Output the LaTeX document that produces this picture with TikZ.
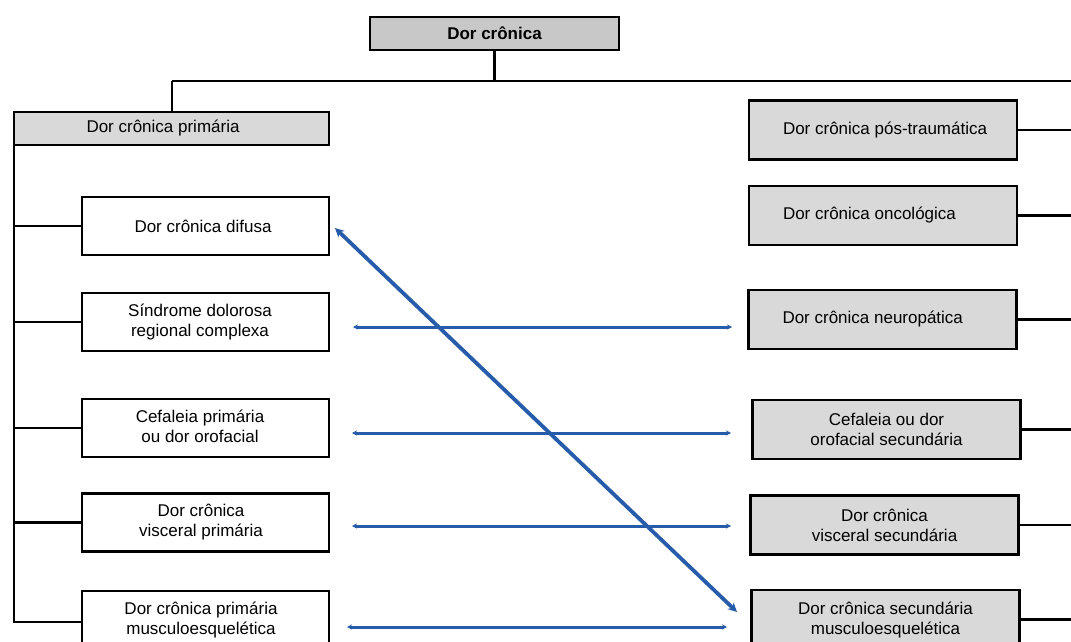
\documentclass[tikz,border=0pt]{standalone}
\usepackage{fontspec}
\setmainfont{Liberation Sans}
\usetikzlibrary{arrows.meta}
\definecolor{titlegray}{RGB}{200,200,200}
\definecolor{boxgray}{RGB}{217,217,217}
\definecolor{linkblue}{RGB}{38,92,170}
\begin{document}
\begin{tikzpicture}[x=1pt,y=-1pt,
  every node/.style={font=\fontsize{17}{20}\selectfont},
  basebox/.style={draw=black, line width=2.2pt, align=center, inner sep=0pt},
  titlebox/.style={basebox, fill=titlegray, minimum width=249pt, minimum height=33pt, font=\fontsize{17}{20}\selectfont\bfseries},
  headbox/.style={basebox, fill=boxgray, minimum width=315pt, minimum height=33pt},
  leftbox/.style={basebox, fill=white, minimum width=247pt, minimum height=58pt},
  rightbox/.style={basebox, fill=boxgray, minimum width=268pt, minimum height=59pt},
  conn/.style={draw=black, line width=2.5pt},
  link/.style={draw=linkblue, line width=3pt, {Stealth[length=5pt,width=5pt]}-{Stealth[length=5pt,width=5pt]}},
  diag/.style={draw=linkblue, line width=3.8pt, {Stealth[length=9pt,width=9pt]}-{Stealth[length=9pt,width=9pt]}}
]
\clip (0,0) rectangle (1071,642);
\fill[white] (0,0) rectangle (1071,642);

% title and header
\node[titlebox] (title) at (494.5,33.5) {Dor crônica};
\node[headbox] (prim) at (171.5,128.5) {\makebox[170pt][l]{Dor crônica primária}};

% left boxes
\node[leftbox] (difusa) at (205.5,226) {\makebox[226pt][l]{\hspace{42pt}Dor crônica difusa}};
\node[leftbox] (sind) at (205.5,322) {\makebox[236pt]{\begin{tabular}{@{}c@{}}Síndrome dolorosa\\regional complexa\end{tabular}}\hspace{11pt}};
\node[leftbox] (cefp) at (205.5,428) {\makebox[236pt]{\begin{tabular}{@{}c@{}}Cefaleia primária\\ou dor orofacial\end{tabular}}\hspace{11pt}};
\node[leftbox] (viscp) at (205.5,522.5) {\makebox[238pt]{\begin{tabular}{@{}c@{}}Dor crônica\\visceral primária\end{tabular}}\hspace{9pt}};
\node[leftbox] (muscp) at (205.5,620) {\makebox[238pt]{\begin{tabular}{@{}c@{}}Dor crônica primária\\musculoesquelética\end{tabular}}\hspace{9pt}};

% right boxes
\node[rightbox] (pos) at (883,130) {\makebox[200pt][l]{Dor crônica pós-traumática}};
\node[rightbox] (onco) at (883,215.5) {\makebox[200pt][l]{Dor crônica oncológica}};
\node[rightbox] (neuro) at (882.5,319.5) {\makebox[200pt][l]{Dor crônica neuropática}};
\node[rightbox] (cefs) at (886.5,429.5) {Cefaleia ou dor\\orofacial secundária};
\node[rightbox] (viscs) at (884.5,525) {Dor crônica\\visceral secundária};
\node[rightbox] (muscs) at (885.5,619.5) {Dor crônica secundária\\musculoesquelética};

% tree connectors
\coordinate (hub) at (494.5,81);
\coordinate (lcorner) at (172,81);
\coordinate (rend) at (1085,81);
\coordinate (trunktop) at (14,144);
\coordinate (trunkbot) at (14,622);
\draw[conn] (title.south) -- (hub);
\draw[conn] (lcorner) -- (rend);
\draw[conn] (lcorner) -- (prim.north -| lcorner);
\draw[conn, line join=miter] (trunktop) -- (trunkbot) -- (muscp.west |- trunkbot);
\draw[conn] (trunktop |- difusa.west) -- (difusa.west);
\draw[conn] (trunktop |- sind.west) -- (sind.west);
\draw[conn] (trunktop |- cefp.west) -- (cefp.west);
\draw[conn] (trunktop |- viscp.west) -- (viscp.west);

\foreach \n in {pos,onco,neuro,cefs,viscs,muscs}{
  \draw[conn] (\n.east) -- ++(70,0);
}

% blue links
\coordinate (a1) at (353,327); \coordinate (b1) at (732,327);
\coordinate (a2) at (352,433); \coordinate (b2) at (731,433);
\coordinate (a3) at (352,526); \coordinate (b3) at (731,526);
\coordinate (a4) at (347,627); \coordinate (b4) at (727,627);
\coordinate (d1) at (335,228); \coordinate (d2) at (737,612);
\draw[link] (a1) -- (b1);
\draw[link] (a2) -- (b2);
\draw[link] (a3) -- (b3);
\draw[link] (a4) -- (b4);
\draw[diag] (d1) -- (d2);
\end{tikzpicture}
\end{document}
